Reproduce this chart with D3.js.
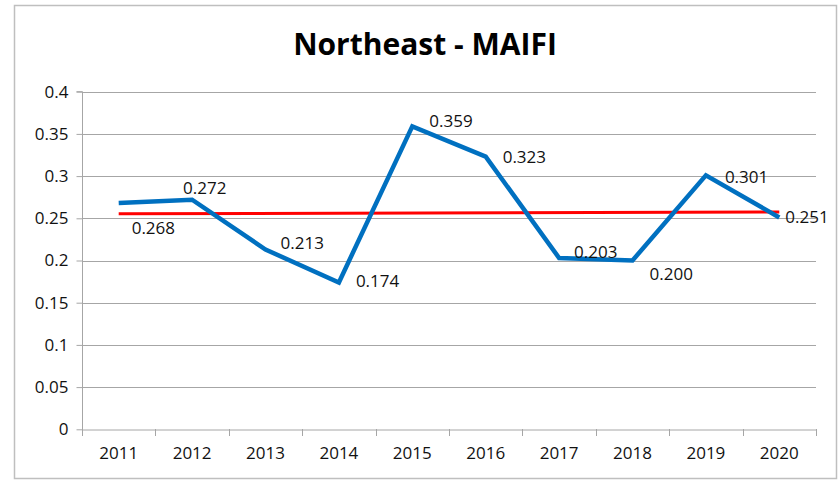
<!DOCTYPE html>
<html><head><meta charset="utf-8">
<script src="https://cdn.jsdelivr.net/npm/d3@7"></script>
<style>body{margin:0;background:#fff}svg{display:block}</style>
</head><body>
<svg id="c" width="840" height="481"></svg>
<script>
const years = ["2011","2012","2013","2014","2015","2016","2017","2018","2019","2020"];
const maifi = [0.268,0.272,0.213,0.174,0.359,0.323,0.203,0.200,0.301,0.251];
const trendYears = ["2011","2020"];
const trendValues = [0.2554,0.2574];
const yTicks = [0,0.05,0.1,0.15,0.2,0.25,0.3,0.35,0.4];
const title = "Northeast - MAIFI";
// label placement offsets (px) relative to each point
const labelDx = [13,-9,15,17,17,17,15,17,19,6];
const labelDy = [25,-12,-6,-1,-5,0,-6,14,2,0];

const svg = d3.select("#c");
const font = "'Open Sans', sans-serif";
const m = {left:82, right:816, top:91.7, bottom:429.3};

svg.append("rect").attr("x",14.5).attr("y",5.5).attr("width",822).attr("height",473)
  .attr("fill","#fff").attr("stroke","#bfbfbf").attr("stroke-width",1.5);

const x = d3.scaleBand().domain(years).range([m.left,m.right]).paddingInner(0).paddingOuter(0);
const y = d3.scaleLinear().domain([0,0.4]).range([m.bottom,m.top]);
const cx = d => x(d)+x.bandwidth()/2;

// gridlines
svg.append("g").selectAll("line").data(yTicks.filter(t=>t>0)).join("line")
  .attr("x1",m.left).attr("x2",m.right).attr("y1",d=>Math.round(y(d))+0.5).attr("y2",d=>Math.round(y(d))+0.5)
  .attr("stroke","#a6a6a6").attr("stroke-width",1);

// y axis
const ya = svg.append("g").attr("transform",`translate(${m.left+0.5},0)`)
  .call(d3.axisLeft(y).tickValues(yTicks).tickFormat(d=>d3.format("")(+d.toFixed(2))).tickSize(6).tickPadding(8));
ya.select(".domain").attr("stroke","#a6a6a6").attr("d",`M-6,${y(0.4)}H0V${y(0)}`);
ya.selectAll(".tick line").attr("stroke","#a6a6a6");
ya.selectAll(".tick text").attr("font-family",font).attr("font-size",17).attr("fill","#111");

// x axis
const xa = svg.append("g").attr("transform",`translate(0,${Math.round(m.bottom)+0.5})`)
  .call(d3.axisBottom(x).tickSize(0).tickPadding(17));
xa.select(".domain").attr("stroke","#a6a6a6");
xa.selectAll(".tick text").attr("font-family",font).attr("font-size",17).attr("fill","#111");
svg.append("g").selectAll("line").data(d3.range(years.length+1)).join("line")
  .attr("x1",i=>Math.round(m.left+i*x.step())+0.5).attr("x2",i=>Math.round(m.left+i*x.step())+0.5)
  .attr("y1",Math.round(m.bottom)).attr("y2",Math.round(m.bottom)+7)
  .attr("stroke","#a6a6a6");

// trend line
svg.append("path").datum(trendYears.map((t,i)=>[t,trendValues[i]]))
  .attr("d",d3.line().x(d=>cx(d[0])).y(d=>y(d[1])))
  .attr("stroke","#ff0000").attr("stroke-width",3).attr("fill","none");

// data line
svg.append("path").datum(years.map((t,i)=>[t,maifi[i]]))
  .attr("d",d3.line().x(d=>cx(d[0])).y(d=>y(d[1])))
  .attr("stroke","#0070c0").attr("stroke-width",4.5).attr("fill","none").attr("stroke-linejoin","miter");

// labels
svg.append("g").selectAll("text").data(years.map((t,i)=>({t,v:maifi[i],i}))).join("text")
  .attr("x",d=>cx(d.t)+labelDx[d.i]).attr("y",d=>y(d.v)+labelDy[d.i])
  .attr("dy","0.35em").attr("font-family",font).attr("font-size",17).attr("fill","#111")
  .text(d=>d3.format(".3f")(d.v));

// title
svg.append("text").attr("x",425).attr("y",55).attr("text-anchor","middle")
  .attr("font-family",font).attr("font-weight","bold").attr("font-size",30).attr("fill","#000")
  .text(title);
</script>
</body></html>
